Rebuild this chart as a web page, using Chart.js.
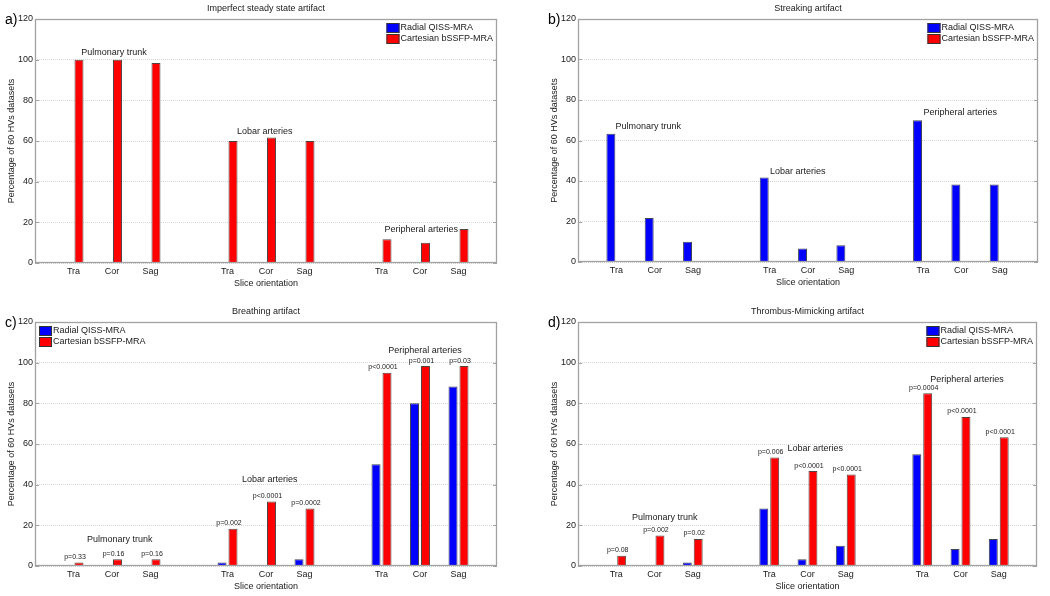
<!DOCTYPE html>
<html>
<head>
<meta charset="utf-8">
<script src="https://cdn.jsdelivr.net/npm/chart.js@4/dist/chart.umd.min.js"></script>
<style>
  body { margin: 0; background: #fff; width: 1050px; height: 596px; position: relative; overflow: hidden; }
  canvas { position: absolute; }
</style>
</head>
<body>
<canvas id="chartA" width="525" height="298" style="left:0;top:0"></canvas>
<canvas id="chartB" width="525" height="298" style="left:525px;top:0"></canvas>
<canvas id="chartC" width="525" height="298" style="left:0;top:298px"></canvas>
<canvas id="chartD" width="525" height="298" style="left:525px;top:298px"></canvas>
<script>
/* Chart data (percent of 60 datasets).
   Empty slots separate the three vessel groups. */
var categories = ['', 'Tra', 'Cor', 'Sag', '', 'Tra', 'Cor', 'Sag', '', 'Tra', 'Cor', 'Sag', ''];
var seriesNames = ['Radial QISS-MRA', 'Cartesian bSSFP-MRA'];
var groupNames = ['Pulmonary trunk', 'Lobar arteries', 'Peripheral arteries'];

// a) Imperfect steady state artifact
var steadyRadial    = [null, 0, 0, 0, null, 0, 0, 0, null, 0, 0, 0, null];
var steadyCartesian = [null, 100, 100, 98.3, null, 60, 61.7, 60, null, 11.7, 10, 16.7, null];

// b) Streaking artifact
var streakRadial    = [null, 63.3, 21.7, 10, null, 41.7, 6.7, 8.3, null, 70, 38.3, 38.3, null];
var streakCartesian = [null, 0, 0, 0, null, 0, 0, 0, null, 0, 0, 0, null];

// c) Breathing artifact
var breathRadial    = [null, 0, 0, 0, null, 1.7, 0, 3.3, null, 50, 80, 88.3, null];
var breathCartesian = [null, 1.7, 3.3, 3.3, null, 18.3, 31.7, 28.3, null, 95, 98.3, 98.3, null];
var breathP = ['', 'p=0.33', 'p=0.16', 'p=0.16', '', 'p=0.002', 'p<0.0001', 'p=0.0002', '', 'p<0.0001', 'p=0.001', 'p=0.03', ''];

// d) Thrombus-Mimicking artifact
var thrombRadial    = [null, 0, 0, 1.7, null, 28.3, 3.3, 10, null, 55, 8.3, 13.3, null];
var thrombCartesian = [null, 5, 15, 13.3, null, 53.3, 46.7, 45, null, 85, 73.3, 63.3, null];
var thrombP = ['', 'p=0.08', 'p=0.002', 'p=0.02', '', 'p=0.006', 'p<0.0001', 'p<0.0001', '', 'p=0.0004', 'p<0.0001', 'p<0.0001', ''];

var FONT = '"Liberation Sans", Arial, Helvetica, sans-serif';
var TEXT = '#1a1a1a';
var FRAME = '#a2a2a2';
var colors = ['#0000ff', '#ff0000'];

Chart.defaults.font.family = FONT;
Chart.defaults.color = TEXT;

/* Draws the matlab style box, inner ticks, group names, p values,
   the legend and the panel letter on top of the bars */
function makeDecor(cfg) {
  return {
    id: 'decor',
    afterDatasetsDraw: function(chart) {
      var ctx = chart.ctx, area = chart.chartArea;
      var xs = chart.scales.x, ys = chart.scales.y;
      ctx.save();

      ctx.strokeStyle = FRAME;
      ctx.lineWidth = 1.3;
      ctx.strokeRect(area.left + 0.5, area.top + 0.5, area.width - 1, area.height - 1);
      ctx.lineWidth = 1;
      ys.ticks.forEach(function(t) {
        var py = Math.round(ys.getPixelForValue(t.value)) + 0.5;
        ctx.beginPath();
        ctx.moveTo(area.left, py); ctx.lineTo(area.left + 4, py);
        ctx.moveTo(area.right - 4, py); ctx.lineTo(area.right, py);
        ctx.stroke();
      });

      ctx.fillStyle = TEXT;
      ctx.font = '9px ' + FONT;
      ctx.textAlign = 'center';
      ctx.textBaseline = 'middle';
      cfg.groupAnchors.forEach(function(a, i) {
        ctx.fillText(groupNames[i], xs.getPixelForValue(a[0]), ys.getPixelForValue(a[1]));
      });

      if (cfg.pValues) {
        var meta = chart.getDatasetMeta(1);
        ctx.font = '7px ' + FONT;
        ctx.textBaseline = 'alphabetic';
        cfg.pValues.forEach(function(p, i) {
          if (!p) return;
          var bar = meta.data[i];
          ctx.fillText(p, bar.x - 4, bar.y - 3.5);
        });
      }

      // legend
      ctx.font = '9px ' + FONT;
      var textW = 0;
      chart.data.datasets.forEach(function(ds) {
        textW = Math.max(textW, ctx.measureText(ds.label).width);
      });
      var lx = cfg.legendSide === 'left' ? area.left + 4 : area.right - 4 - textW - 14;
      chart.data.datasets.forEach(function(ds, i) {
        var ly = area.top + 4 + i * 11;
        ctx.fillStyle = ds.backgroundColor;
        ctx.fillRect(lx, ly, 13, 10);
        ctx.strokeStyle = '#333';
        ctx.strokeRect(lx + 0.5, ly + 0.5, 12, 9);
        ctx.fillStyle = TEXT;
        ctx.textAlign = 'left';
        ctx.textBaseline = 'middle';
        ctx.fillText(ds.label, lx + 14, ly + 5);
      });

      ctx.font = '14px ' + FONT;
      ctx.fillStyle = '#000';
      ctx.textAlign = 'left';
      ctx.textBaseline = 'middle';
      ctx.fillText(cfg.letter, area.left - 30, area.top + 1);
      ctx.restore();
    }
  };
}

function createPanel(canvasid, cfg) {
  var ctx = document.getElementById(canvasid).getContext('2d');
  return new Chart(ctx, {
    type: 'bar',
    data: {
      labels: categories,
      datasets: [{
        label: seriesNames[0],
        data: cfg.radial,
        backgroundColor: colors[0],
        borderColor: 'rgba(20,20,40,0.8)',
        borderWidth: 1
      }, {
        label: seriesNames[1],
        data: cfg.cartesian,
        backgroundColor: colors[1],
        borderColor: 'rgba(40,20,20,0.8)',
        borderWidth: 1
      }]
    },
    options: {
      responsive: false,
      animation: false,
      categoryPercentage: 0.57,
      barPercentage: 0.82,
      layout: { padding: cfg.padding },
      plugins: {
        legend: { display: false },
        tooltip: { enabled: false },
        title: {
          display: true,
          text: cfg.title,
          fullSize: false,
          color: TEXT,
          font: { size: 9, weight: 'normal' },
          padding: cfg.titlePadding
        }
      },
      scales: {
        x: {
          type: 'category',
          offset: false,
          grid: { display: false, drawTicks: false },
          border: { display: false },
          ticks: { autoSkip: false, maxRotation: 0, padding: 3, color: TEXT, font: { size: 9 } },
          title: { display: true, text: 'Slice orientation', color: TEXT, font: { size: 9 }, padding: { top: 0, bottom: 0 } },
          afterFit: function(scale) { scale.height = 26; }
        },
        y: {
          min: 0,
          max: 120,
          ticks: { stepSize: 20, padding: 2, color: TEXT, font: { size: 9 } },
          grid: { color: '#d6d6d6', drawTicks: false },
          border: { display: false, dash: [1, 1] },
          title: { display: true, text: 'Percentage of 60 HVs datasets', color: TEXT, font: { size: 9 }, padding: { top: 6.6, bottom: 0 } },
          afterFit: function(scale) { scale.width = 35; }
        }
      }
    },
    plugins: [makeDecor(cfg)]
  });
}

createPanel('chartA', {
  title: 'Imperfect steady state artifact',
  letter: 'a)',
  radial: steadyRadial,
  cartesian: steadyCartesian,
  legendSide: 'right',
  groupAnchors: [[2.05, 103.3], [5.97, 64.9], [10.03, 16.7]],
  padding: { left: 0, right: 28, top: 0, bottom: 9 },
  titlePadding: { top: 3.6, bottom: 4.6 }
});

createPanel('chartB', {
  title: 'Streaking artifact',
  letter: 'b)',
  radial: streakRadial,
  cartesian: streakCartesian,
  legendSide: 'right',
  groupAnchors: [[1.83, 66.7], [5.73, 44.9], [9.97, 73.6]],
  padding: { left: 18, right: 12, top: 0, bottom: 10 },
  titlePadding: { top: 3.6, bottom: 4.6 }
});

createPanel('chartC', {
  title: 'Breathing artifact',
  letter: 'c)',
  radial: breathRadial,
  cartesian: breathCartesian,
  pValues: breathP,
  legendSide: 'left',
  groupAnchors: [[2.2, 12.8], [6.1, 42.3], [10.13, 106.2]],
  padding: { left: 0, right: 28, top: 0, bottom: 4 },
  titlePadding: { top: 8.6, bottom: 4.6 }
});

createPanel('chartD', {
  title: 'Thrombus-Mimicking artifact',
  letter: 'd)',
  radial: thrombRadial,
  cartesian: thrombCartesian,
  pValues: thrombP,
  legendSide: 'right',
  groupAnchors: [[2.27, 23.6], [6.2, 58], [10.17, 91.5]],
  padding: { left: 18, right: 13, top: 0, bottom: 4 },
  titlePadding: { top: 8.6, bottom: 4.6 }
});
</script>
</body>
</html>
